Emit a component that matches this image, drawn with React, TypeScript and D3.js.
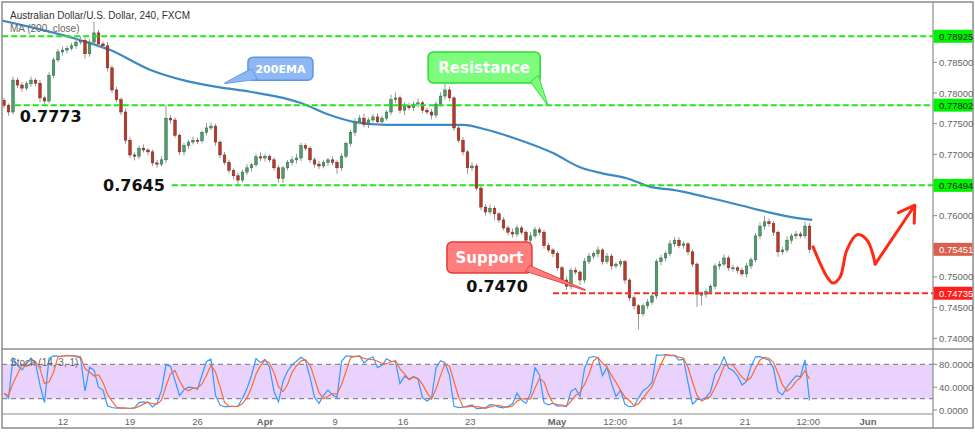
import React from 'react';
import * as d3 from 'd3';

// ---------- DATA (8h candles) ----------
const firstOpen = 0.7788;
const closes = [
  0.7780, 0.7769, 0.7821, 0.7813, 0.7808, 0.7815, 0.7821, 0.7816, 0.7792, 0.7787,
  0.7829, 0.7854, 0.7867, 0.7870, 0.7873, 0.7877, 0.7883, 0.7886, 0.7864, 0.7883,
  0.7898, 0.7880, 0.7877, 0.7841, 0.7805, 0.7789, 0.7769, 0.7723, 0.7699, 0.7697,
  0.7710, 0.7707, 0.7704, 0.7686, 0.7684, 0.7691, 0.7759, 0.7756, 0.7731, 0.7704,
  0.7714, 0.7720, 0.7723, 0.7722, 0.7736, 0.7743, 0.7746, 0.7720, 0.7699, 0.7687,
  0.7674, 0.7665, 0.7658, 0.7671, 0.7678, 0.7683, 0.7696, 0.7694, 0.7697, 0.7691,
  0.7678, 0.7661, 0.7678, 0.7687, 0.7691, 0.7694, 0.7714, 0.7710, 0.7691, 0.7684,
  0.7681, 0.7687, 0.7691, 0.7687, 0.7678, 0.7697, 0.7718, 0.7736, 0.7753, 0.7759,
  0.7749, 0.7756, 0.7761, 0.7753, 0.7759, 0.7769, 0.7789, 0.7792, 0.7772, 0.7779,
  0.7776, 0.7782, 0.7784, 0.7772, 0.7769, 0.7764, 0.7782, 0.7795, 0.7805, 0.7792,
  0.7743, 0.7723, 0.7704, 0.7678, 0.7681, 0.7645, 0.7614, 0.7606, 0.7612, 0.7603,
  0.7593, 0.7580, 0.7573, 0.7570, 0.7580, 0.7573, 0.7560, 0.7567, 0.7577, 0.7573,
  0.7551, 0.7544, 0.7538, 0.7515, 0.7495, 0.7485, 0.7511, 0.7508, 0.7495, 0.7525,
  0.7534, 0.7538, 0.7544, 0.7525, 0.7534, 0.7518, 0.7521, 0.7525, 0.7495, 0.7466,
  0.7453, 0.7440, 0.7453, 0.7459, 0.7469, 0.7525, 0.7531, 0.7538, 0.7554, 0.7560,
  0.7551, 0.7554, 0.7541, 0.7521, 0.7472, 0.7472, 0.7476, 0.7485, 0.7518, 0.7521,
  0.7531, 0.7515, 0.7515, 0.7511, 0.7505, 0.7518, 0.7528, 0.7567, 0.7583, 0.7590,
  0.7587, 0.7573, 0.7541, 0.7544, 0.7560, 0.7567, 0.7570, 0.7567, 0.7583, 0.7545,
];
// upper / lower wick length in pips
const hiWick = [
  4, 3, 6, 4, 5, 4, 6, 3, 5, 4, 5, 4, 5, 6, 4, 5, 7, 6, 4, 5,
  18, 5, 4, 6, 4, 5, 4, 6, 5, 4, 4, 6, 3, 4, 5, 6, 21, 5, 4, 3,
  5, 4, 6, 4, 3, 8, 6, 4, 3, 5, 4, 3, 5, 4, 6, 3, 5, 7, 4, 3,
  4, 5, 3, 4, 6, 7, 5, 4, 3, 4, 5, 4, 3, 6, 4, 5, 3, 4, 6, 5,
  7, 4, 5, 6, 4, 3, 8, 9, 4, 6, 5, 4, 7, 3, 4, 5, 4, 6, 10, 5,
  3, 4, 5, 3, 6, 4, 3, 5, 6, 4, 3, 5, 4, 6, 5, 4, 3, 6, 5, 4,
  4, 5, 3, 4, 3, 6, 4, 5, 3, 6, 5, 4, 6, 3, 5, 4, 3, 4, 3, 3,
  4, 3, 4, 5, 3, 4, 5, 4, 6, 5, 5, 4, 3, 4, 3, 4, 5, 3, 4, 5,
  6, 4, 5, 3, 4, 5, 4, 5, 6, 10, 5, 4, 3, 5, 6, 4, 5, 4, 7, 5,
];
const loWick = [
  5, 6, 4, 5, 6, 4, 5, 5, 7, 6, 4, 5, 4, 6, 5, 4, 5, 4, 8, 5,
  4, 6, 5, 6, 5, 4, 5, 6, 5, 7, 5, 4, 6, 5, 6, 4, 5, 6, 4, 5,
  6, 5, 4, 5, 4, 5, 4, 6, 5, 4, 5, 6, 7, 4, 5, 6, 4, 5, 6, 4,
  5, 7, 8, 4, 5, 6, 5, 4, 5, 6, 5, 4, 6, 5, 10, 5, 4, 5, 6, 4,
  5, 6, 4, 5, 6, 4, 5, 6, 5, 8, 4, 5, 6, 5, 4, 7, 5, 4, 6, 5,
  5, 4, 6, 10, 5, 4, 5, 6, 4, 10, 5, 4, 5, 6, 5, 4, 6, 5, 4, 5,
  5, 4, 6, 5, 7, 6, 5, 4, 8, 5, 4, 5, 6, 5, 4, 6, 4, 5, 6, 5,
  6, 26, 4, 5, 4, 5, 6, 5, 4, 5, 4, 5, 6, 5, 21, 18, 6, 4, 5, 6,
  4, 5, 6, 5, 4, 6, 5, 4, 5, 6, 5, 6, 8, 5, 4, 6, 5, 4, 5, 6,
];

// 200 EMA (candle index, price)
const emaIdx = [-0.5, 17, 23.6, 32.4, 39.8, 47.3, 54.7, 62, 65.8, 72.4, 77.6, 85, 96, 102, 107.3, 113.1, 122, 128, 133, 138.4, 143.6, 148.7, 156.2, 163.6, 169.6, 174.7, 179.6];
const emaVal = [0.7918, 0.7886, 0.7870, 0.7838, 0.7821, 0.7810, 0.7802, 0.7792, 0.7784, 0.7764, 0.7753, 0.7748, 0.7748, 0.7748, 0.7740, 0.7727, 0.7702, 0.7679, 0.7669, 0.7661, 0.7647, 0.7642, 0.7630, 0.7617, 0.7606, 0.7598, 0.7593];

const priceTicks = [0.74, 0.745, 0.75, 0.755, 0.76, 0.765, 0.77, 0.775, 0.78, 0.785, 0.79];
const stochTicks = [0, 40, 80];
const stochBand = [20, 80];

const dateTickIdx = [13.1, 28, 43, 58, 73.6, 88.7, 103.6, 122.9, 135.8, 149.6, 164.7, 178.7, 192];
const dateTickLabels = ['12', '19', '26', 'Apr', '9', '16', '23', 'May', '12:00', '14', '21', '12:00', 'Jun'];
const dateTickBold = [false, false, false, true, false, false, false, true, false, false, false, false, true];

const resistLevels = [0.78925, 0.77802, 0.76494];
const resistStartIdx = [-0.4, 2.4, 37.3];
const supportLevel = 0.74735;
const supportStartIdx = 122;
const lastPrice = 0.75451;
const levelNotes = ['0.7773', '0.7645', '0.7470'];

// hand-drawn forecast wave
const fcIdx = [179.8, 182.9, 184.2, 185.8, 187.3, 189.6, 191.8, 193.6];
const fcVal = [0.7549, 0.7500, 0.7490, 0.7500, 0.7544, 0.7569, 0.7560, 0.7521];
const fcTipIdx = 202.4;
const fcTipVal = 0.7617;

// callout tips (candle index, price)
const calloutLabels = ['200EMA', 'Resistance', 'Support'];
const calloutTipIdx = [49.1, 120.7, 129.1];
const calloutTipVal = [0.7816, 0.77821, 0.74788];

export default function App() {
  const W = 975, H = 433;
  const left = 2, axisX = 933, right = 973, top = 2, sep = 349, stBot = 414, bottom = 428;

  const x = d3.scaleLinear().domain([0, 179]).range([4, 809.5]);
  const y = d3.scaleLinear().domain([0.74, 0.78]).range([338.3, 93]);
  const ys = d3.scaleLinear().domain([0, 100]).range([410, 352.9]);

  const candles = closes.map((c, i) => {
    const o = i === 0 ? firstOpen : closes[i - 1];
    const h = Math.max(o, c) + hiWick[i] * 1e-4;
    const l = Math.min(o, c) - loWick[i] * 1e-4;
    return { i, o, c, h, l };
  });

  // Stochastic (14 x 4h bars ~ 7 x 8h bars)
  const P = 7;
  const kVals = candles.map((d, i) => {
    const w = candles.slice(Math.max(0, i - P + 1), i + 1);
    const hh = d3.max(w, (e) => e.h) as number;
    const ll = d3.min(w, (e) => e.l) as number;
    return hh === ll ? 50 : (100 * (d.c - ll)) / (hh - ll);
  });
  const dVals = kVals.map((_, i) => d3.mean(kVals.slice(Math.max(0, i - 2), i + 1)) as number);

  const stLine = d3.line<number>().x((_, i) => x(i)).y((v) => ys(v));
  const emaLine = d3
    .line<number>()
    .x((_, i) => x(emaIdx[i]))
    .y((v) => y(v))
    .curve(d3.curveMonotoneX);
  const fcLine = d3
    .line<number>()
    .x((_, i) => x(fcIdx[i]))
    .y((v) => y(v))
    .curve(d3.curveCatmullRom.alpha(0.5));

  // forecast arrow
  const fx0 = x(fcIdx[fcIdx.length - 1]), fy0 = y(fcVal[fcVal.length - 1]);
  const fx1 = x(fcTipIdx), fy1 = y(fcTipVal);
  const ang = Math.atan2(fy0 - fy1, fx0 - fx1);
  const ah = 18, aa = (32 * Math.PI) / 180;
  const head1 = [fx1 + ah * Math.cos(ang + aa), fy1 + ah * Math.sin(ang + aa)];
  const head2 = [fx1 + ah * Math.cos(ang - aa), fy1 + ah * Math.sin(ang - aa)];

  const axisFont = 'Liberation Sans, Arial, sans-serif';
  const boldFont = 'DejaVu Sans, Verdana, sans-serif';

  const callouts = [
    { dx: 23, dy: -26, w: 65, h: 23, b1: [26, -14], b2: [32, -4], fill: '#8db8f3', stroke: '#5f95e0', fs: 11 },
    { dx: -119, dy: -52, w: 112, h: 31, b1: [-16, -22], b2: [-9, -28], fill: '#7dfc7d', stroke: '#2fd82f', fs: 15 },
    { dx: -138, dy: -48, w: 85, h: 31, b1: [-55, -24], b2: [-59, -19], fill: '#ff7d7d', stroke: '#e23b3b', fs: 15 },
  ];

  const greenDash = '#1fe51f';
  const redDash = '#ff2b2b';

  const boxPrices = [...resistLevels, lastPrice, supportLevel];
  const visibleTicks = priceTicks.filter((p) => boxPrices.every((b) => Math.abs(y(b) - y(p)) > 11));

  return (
    <svg width={W} height={H} style={{ position: 'absolute', left: 0, top: 0, background: '#fff' }}>
      <style>{`body{margin:0}`}</style>
      <defs>
        <clipPath id="mainClip">
          <rect x={left} y={top} width={axisX - left} height={sep - top} />
        </clipPath>
        <clipPath id="stClip">
          <rect x={left} y={sep} width={axisX - left} height={stBot - sep} />
        </clipPath>
      </defs>
      <rect x={0} y={0} width={W} height={H} fill="#fff" />

      {/* stochastic panel */}
      <g clipPath="url(#stClip)">
        <rect x={left} y={ys(stochBand[1])} width={axisX - left} height={ys(stochBand[0]) - ys(stochBand[1])} fill="#e9d2fc" />
        {stochBand.map((v) => (
          <line key={v} x1={left} x2={axisX} y1={ys(v)} y2={ys(v)} stroke="#8a8a8a" strokeWidth={1.2} strokeDasharray="5,4" />
        ))}
        <path d={stLine(kVals) || ''} fill="none" stroke="#3399ff" strokeWidth={1.2} />
        <path d={stLine(dVals) || ''} fill="none" stroke="#ff6a33" strokeWidth={1.2} />
      </g>
      <text x={10} y={366} fontFamily={axisFont} fontSize={10} fill="#666">Stoch (14, 3, 1)</text>

      {/* main pane */}
      <g clipPath="url(#mainClip)">
        <path d={emaLine(emaVal) || ''} fill="none" stroke="#3d89c2" strokeWidth={2.2} />
        {candles.map((d) => {
          const up = d.c >= d.o;
          const cx = x(d.i);
          const yt = y(Math.max(d.o, d.c));
          const hb = Math.max(1, Math.abs(y(d.o) - y(d.c)));
          return (
            <g key={d.i}>
              <line x1={cx} x2={cx} y1={y(d.h)} y2={y(d.l)} stroke="#999" strokeWidth={1} />
              <rect x={cx - 1.3} y={yt} width={2.6} height={hb} fill={up ? '#4f9c6a' : '#b5392b'} stroke={up ? '#2e6b45' : '#7c2418'} strokeWidth={0.5} />
            </g>
          );
        })}
        {resistLevels.map((p, i) => (
          <line key={p} x1={x(resistStartIdx[i])} x2={axisX} y1={y(p)} y2={y(p)} stroke={greenDash} strokeWidth={2} strokeDasharray="6,3" />
        ))}
        <line x1={x(supportStartIdx)} x2={axisX} y1={y(supportLevel)} y2={y(supportLevel)} stroke={redDash} strokeWidth={2} strokeDasharray="6,3" />

        {/* forecast */}
        <path d={fcLine(fcVal) || ''} fill="none" stroke="#ff2a12" strokeWidth={3} strokeLinecap="round" strokeLinejoin="round" />
        <path d={`M${fx0},${fy0}L${fx1},${fy1}M${head1[0]},${head1[1]}L${fx1},${fy1}L${head2[0]},${head2[1]}`} fill="none" stroke="#ff2a12" strokeWidth={3} strokeLinecap="round" strokeLinejoin="round" />

        {/* callouts */}
        {callouts.map((c, i) => {
          const tx = x(calloutTipIdx[i]);
          const ty = y(calloutTipVal[i]);
          const rx0 = tx + c.dx, ry0 = ty + c.dy;
          const tail = `M${tx + c.b1[0]},${ty + c.b1[1]}L${tx},${ty}L${tx + c.b2[0]},${ty + c.b2[1]}Z`;
          return (
            <g key={i}>
              <rect x={rx0} y={ry0} width={c.w} height={c.h} rx={5} fill={c.fill} stroke={c.stroke} strokeWidth={1.5} />
              <path d={tail} fill={c.fill} stroke={c.stroke} strokeWidth={1.5} strokeLinejoin="round" />
              <path d={tail} fill={c.fill} stroke="none" />
              <text x={rx0 + c.w / 2} y={ry0 + c.h / 2 + c.fs * 0.36} textAnchor="middle" fontFamily={boldFont} fontWeight="bold" fontSize={c.fs} fill="#fff">
                {calloutLabels[i]}
              </text>
            </g>
          );
        })}

        {/* level notes */}
        <text x={x(resistStartIdx[1]) + 5} y={y(resistLevels[1]) + 17} fontFamily={boldFont} fontWeight="bold" fontSize={16} fill="#111">{levelNotes[0]}</text>
        <text x={x(resistStartIdx[2]) - 7} y={y(resistLevels[2]) + 6} textAnchor="end" fontFamily={boldFont} fontWeight="bold" fontSize={16} fill="#111">{levelNotes[1]}</text>
        <text x={x(supportStartIdx) - 25} y={y(supportLevel) - 1} textAnchor="end" fontFamily={boldFont} fontWeight="bold" fontSize={16} fill="#111">{levelNotes[2]}</text>
      </g>

      <text x={10} y={19} fontFamily={axisFont} fontSize={10} fill="#333">Australian Dollar/U.S. Dollar, 240, FXCM</text>
      <text x={10} y={32} fontFamily={axisFont} fontSize={10} fill="#666">MA (200, close)</text>

      {/* frame */}
      <rect x={left} y={top} width={right - left} height={bottom - top} fill="none" stroke="#8c8c8c" strokeWidth={1.5} />
      <line x1={left} x2={right} y1={sep} y2={sep} stroke="#8c8c8c" strokeWidth={1.5} />
      <line x1={left} x2={axisX} y1={stBot} y2={stBot} stroke="#8c8c8c" strokeWidth={1.2} />
      <line x1={axisX} x2={axisX} y1={top} y2={bottom} stroke="#8c8c8c" strokeWidth={1.2} />

      {/* price axis */}
      {priceTicks.map((p) => (
        <line key={'t' + p} x1={axisX} x2={axisX + 4} y1={y(p)} y2={y(p)} stroke="#888" />
      ))}
      {visibleTicks.map((p) => (
        <text key={p} x={axisX + 6} y={y(p) + 3.5} fontFamily={axisFont} fontSize={9.5} fill="#666">{p.toFixed(5)}</text>
      ))}
      {resistLevels.map((p) => (
        <g key={'b' + p}>
          <rect x={axisX + 0.5} y={y(p) - 6.5} width={right - axisX - 1} height={13} fill="#00f200" />
          <text x={axisX + 6} y={y(p) + 3.5} fontFamily={axisFont} fontSize={9.5} fill="#222">{p.toFixed(5)}</text>
        </g>
      ))}
      <rect x={axisX + 0.5} y={y(lastPrice) - 6.5} width={right - axisX - 1} height={13} fill="#d9604c" />
      <text x={axisX + 6} y={y(lastPrice) + 3.5} fontFamily={axisFont} fontSize={9.5} fill="#fff">{lastPrice.toFixed(5)}</text>
      <rect x={axisX + 0.5} y={y(supportLevel) - 6.5} width={right - axisX - 1} height={13} fill="#ff1e1e" />
      <text x={axisX + 6} y={y(supportLevel) + 3.5} fontFamily={axisFont} fontSize={9.5} fill="#fff">{supportLevel.toFixed(5)}</text>

      {/* stoch axis */}
      {stochTicks.map((v) => (
        <g key={v}>
          <line x1={axisX} x2={axisX + 4} y1={ys(v)} y2={ys(v)} stroke="#888" />
          <text x={axisX + 6} y={ys(v) + 3.5} fontFamily={axisFont} fontSize={9.5} fill="#666">{v.toFixed(4)}</text>
        </g>
      ))}

      {/* date axis */}
      {dateTickIdx.map((t, i) => (
        <text key={i} x={x(t)} y={425} textAnchor="middle" fontFamily={axisFont} fontSize={9.5} fontWeight={dateTickBold[i] ? 'bold' : 'normal'} fill="#666">
          {dateTickLabels[i]}
        </text>
      ))}
    </svg>
  );
}
